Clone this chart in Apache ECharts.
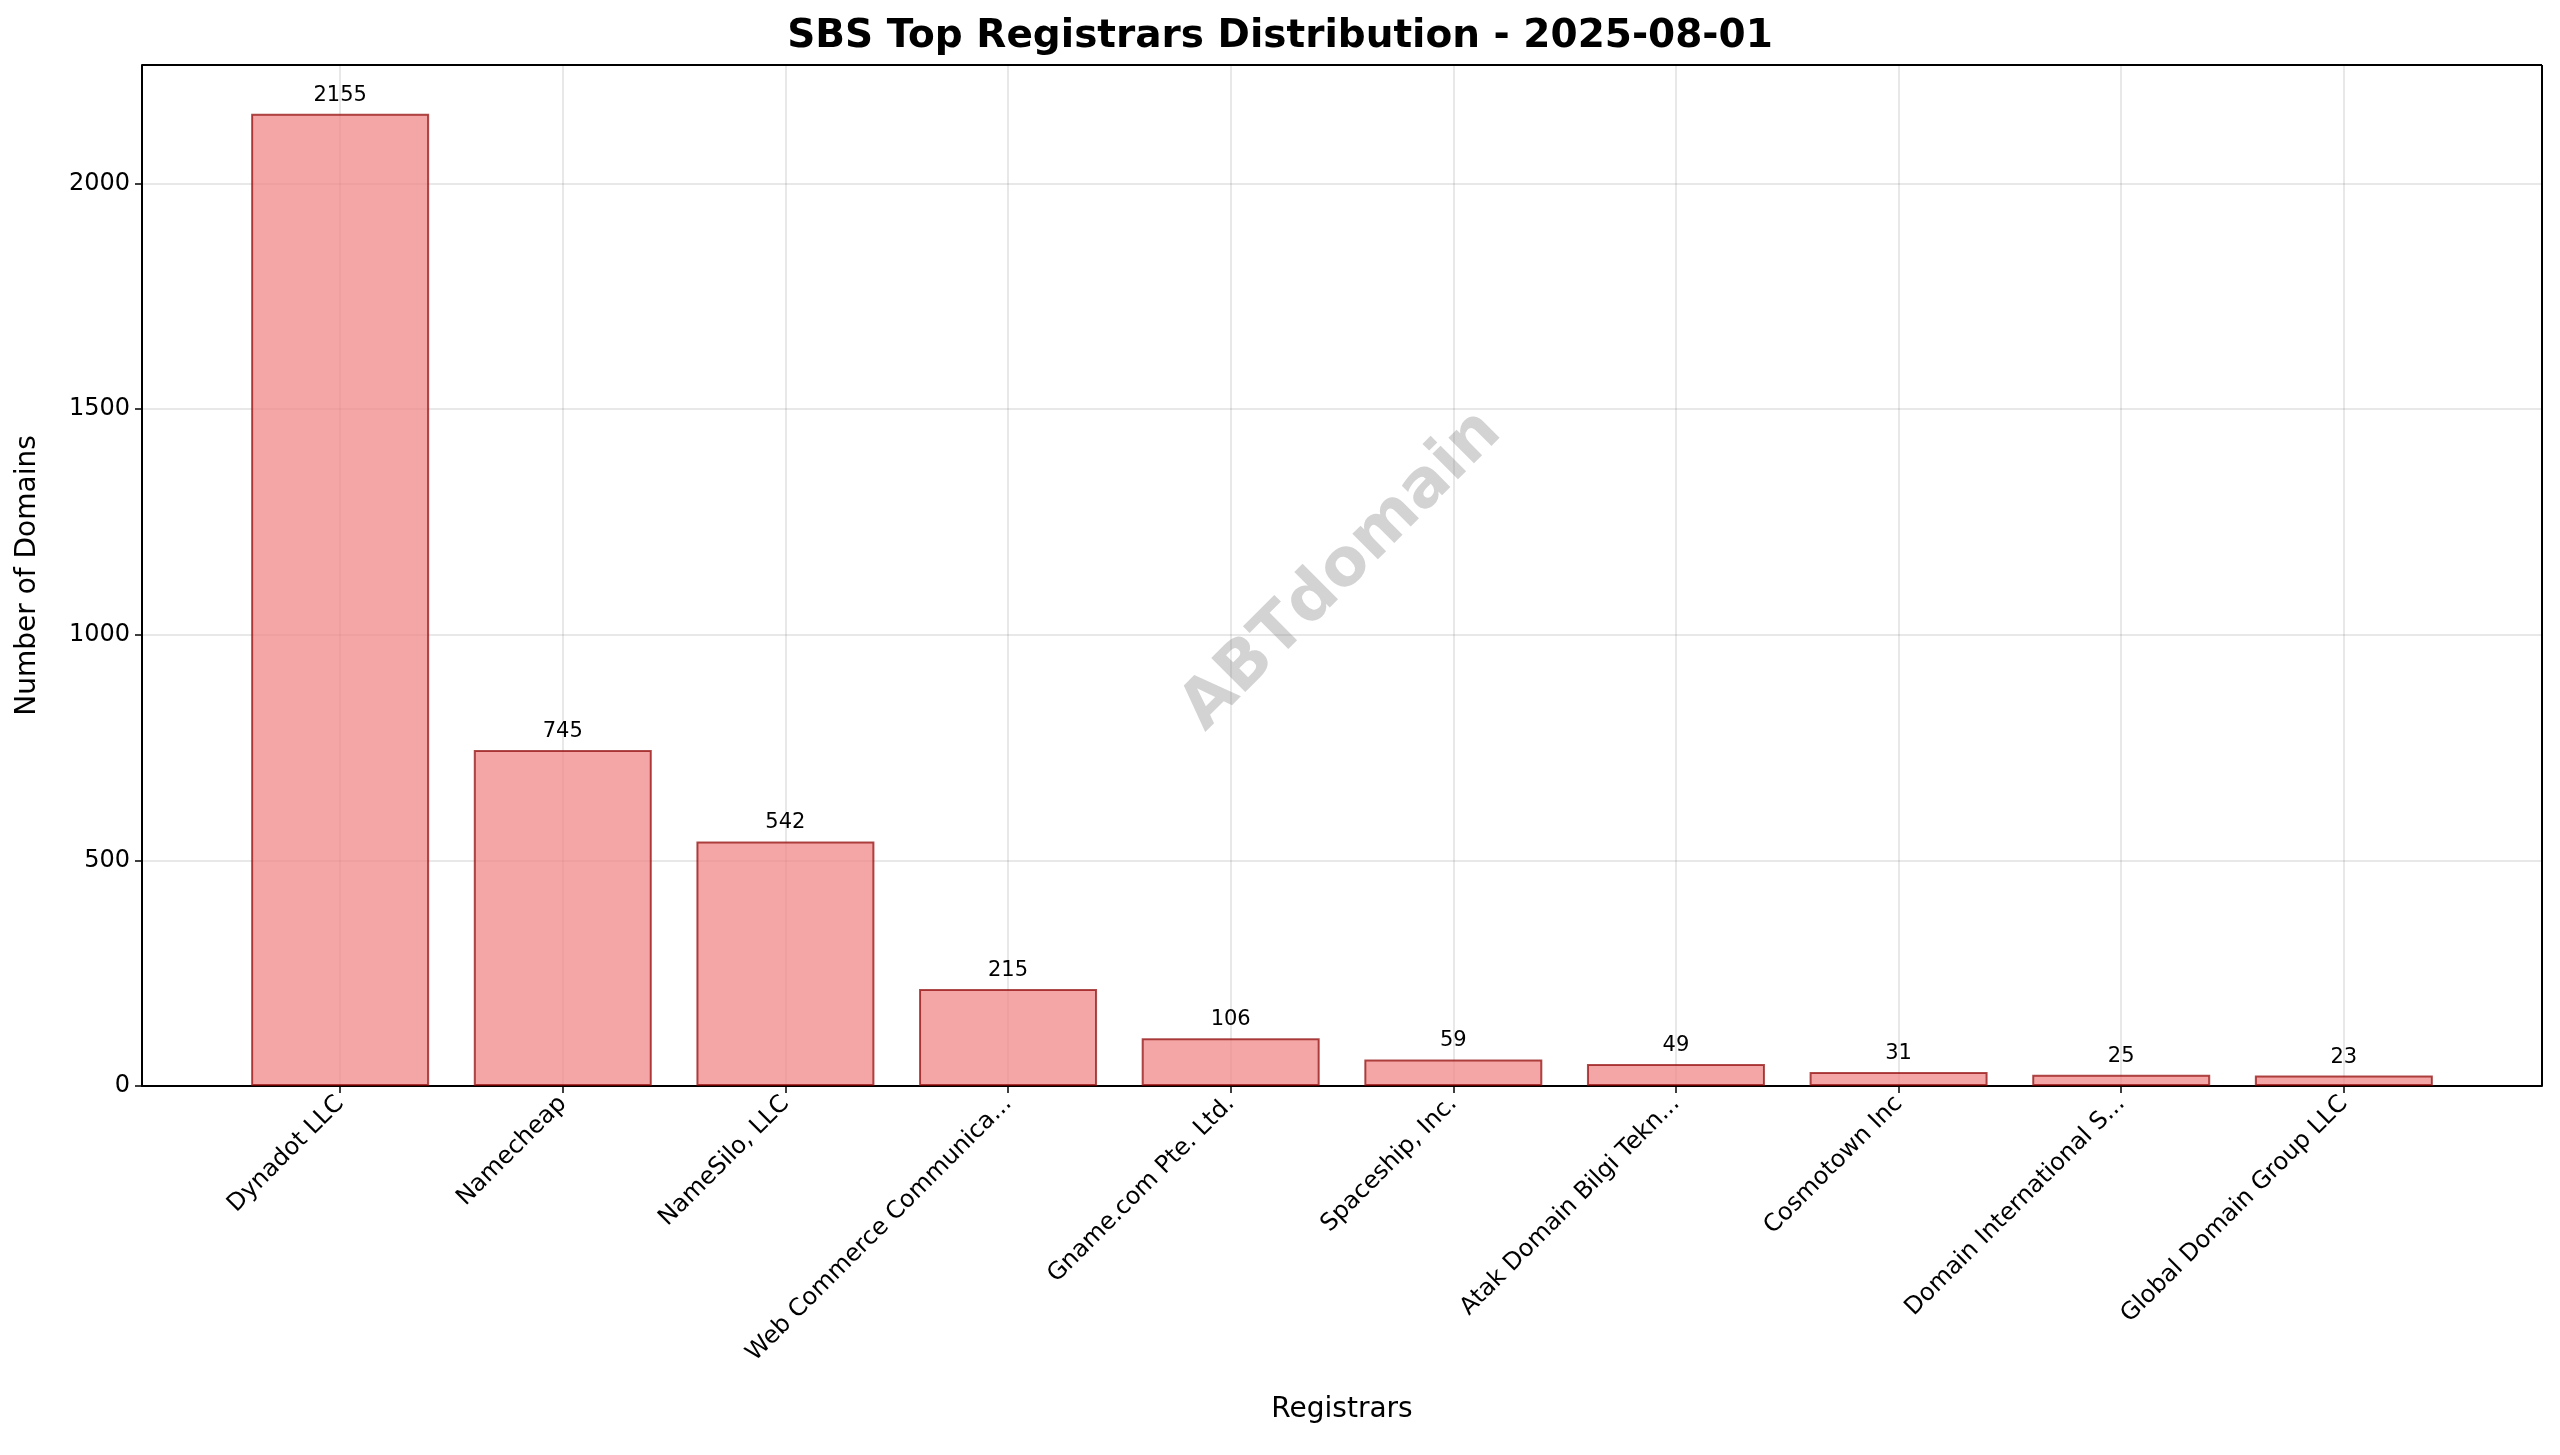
<!DOCTYPE html>
<html>
<head>
<meta charset="utf-8">
<script src="https://cdn.jsdelivr.net/npm/echarts@6/dist/echarts.min.js"></script>
<style>html,body{margin:0;padding:0;background:#fff}#chart{width:2560px;height:1455px}</style>
</head>
<body>
<div id="chart"></div>
<script>
// Data
var registrars = ['Dynadot LLC', 'Namecheap', 'NameSilo, LLC', 'Web Commerce Communica...', 'Gname.com Pte. Ltd.',
    'Spaceship, Inc.', 'Atak Domain Bilgi Tekn...', 'Cosmotown Inc', 'Domain International S...', 'Global Domain Group LLC'];
var domainCounts = [2155, 745, 542, 215, 106, 59, 49, 31, 25, 23];
var positions = registrars.map(function (n, i) { return i; });

var chart = echarts.init(document.getElementById('chart'), null, { renderer: 'canvas' });
var font = 'DejaVu Sans';

chart.setOption({
    animation: false,
    textStyle: { fontFamily: font, color: '#000' },
    title: {
        text: 'SBS Top Registrars Distribution - 2025-08-01',
        left: 'center', top: 12,
        textStyle: { fontFamily: font, fontSize: 39, fontWeight: 'bold', color: '#000' }
    },
    grid: { left: 142, right: 18, top: 65, bottom: 369 },
    graphic: [{
        type: 'text',
        x: 1342, y: 571,
        rotation: Math.PI / 4,
        z: 10,
        style: {
            text: 'ABTdomain', x: 0, y: 0,
            align: 'center', verticalAlign: 'middle',
            font: 'bold 66px DejaVu Sans', fill: 'rgba(128,128,128,0.35)'
        }
    }],
    xAxis: {
        type: 'value', min: -0.89, max: 9.89,
        name: 'Registrars', nameLocation: 'middle', nameGap: 310,
        nameTextStyle: { fontSize: 28, color: '#000' },
        axisLine: { show: true, onZero: false, lineStyle: { color: '#000', width: 2 } },
        axisTick: { show: true, customValues: positions, length: 7, lineStyle: { color: '#000', width: 1.5 } },
        axisLabel: {
            customValues: positions, rotate: 45, fontSize: 24, color: '#000', margin: 14,
            formatter: function (v) { return registrars[Math.round(v)]; }
        },
        splitLine: { show: false }
    },
    yAxis: {
        type: 'value', min: 0, max: 2263, interval: 500,
        name: 'Number of Domains', nameLocation: 'middle', nameGap: 100,
        nameTextStyle: { fontSize: 28, color: '#000' },
        axisLine: { show: true, onZero: false, lineStyle: { color: '#000', width: 2 } },
        axisTick: { show: true, length: 7, lineStyle: { color: '#000', width: 1.5 } },
        axisLabel: {
            fontSize: 24, color: '#000', margin: 12, showMaxLabel: false,
            formatter: function (v) { return String(v); }
        },
        splitLine: { show: true, showMaxLine: false, lineStyle: { color: 'rgba(0,0,0,0.12)', width: 1.5 } }
    },
    series: [{
        type: 'bar',
        barWidth: 178,
        data: domainCounts.map(function (v, i) { return [i, v]; }),
        itemStyle: { color: 'rgba(240,128,128,0.7)', borderColor: 'rgba(139,0,0,0.7)', borderWidth: 2 },
        label: { show: true, position: 'top', distance: 8, fontSize: 21, color: '#000' },
        markLine: {
            silent: true, symbol: 'none', label: { show: false }, z: 0,
            lineStyle: { color: 'rgba(0,0,0,0.12)', width: 1.5, type: 'solid' },
            data: positions.map(function (p) { return { xAxis: p }; })
        },
        z: 3
    }, {
        // top and right frame
        type: 'line', data: [], markLine: {
            silent: true, symbol: 'none', label: { show: false },
            lineStyle: { color: '#000', width: 2, type: 'solid' },
            data: [{ yAxis: 2263 }, { xAxis: 9.89 }]
        }
    }]
});
</script>
</body>
</html>
